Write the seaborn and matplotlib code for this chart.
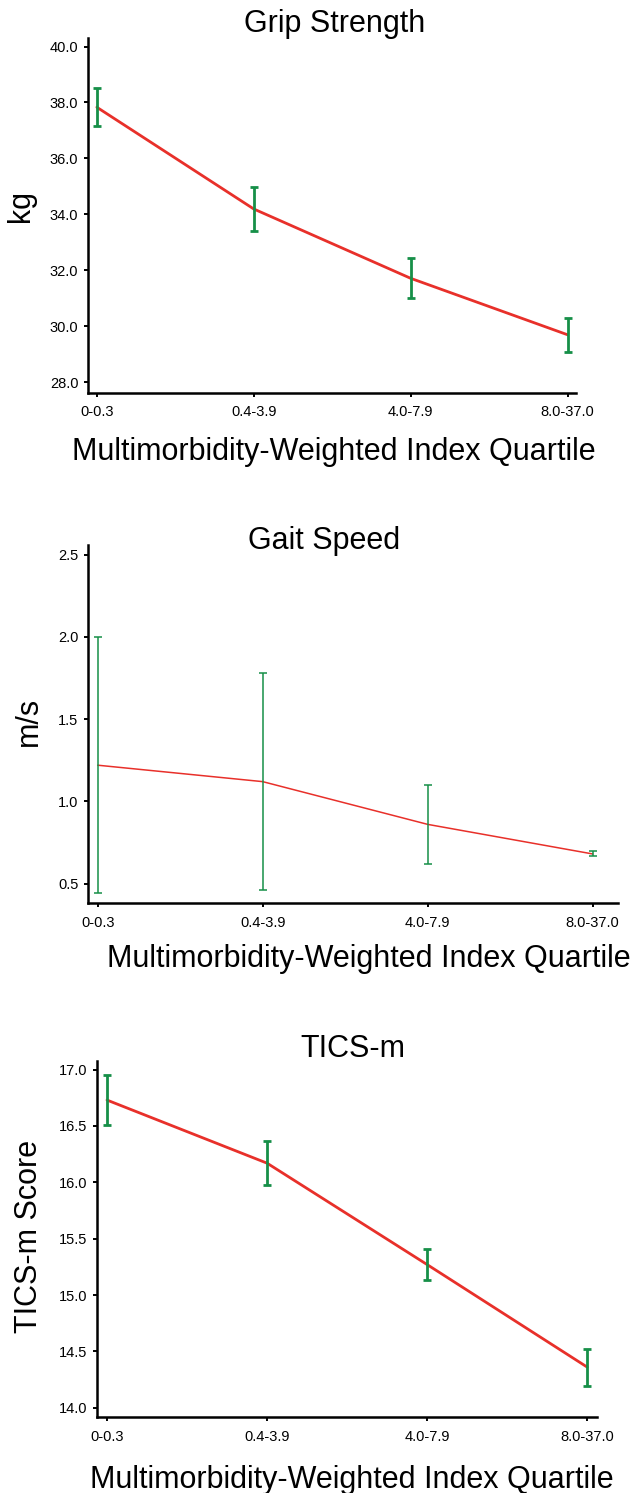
import numpy as np
import pandas as pd
import matplotlib
matplotlib.use("Agg")
import matplotlib.pyplot as plt
import seaborn as sns

# Data
quartiles = ["0-0.3", "0.4-3.9", "4.0-7.9", "8.0-37.0"]

grip_mean = [37.83, 34.19, 31.71, 29.69]
grip_err = [0.68, 0.80, 0.72, 0.61]

gait_mean = [1.22, 1.12, 0.86, 0.68]
gait_err = [0.78, 0.66, 0.24, 0.015]

tics_mean = [16.73, 16.17, 15.27, 14.36]
tics_err = [0.22, 0.195, 0.14, 0.165]

sns.set_style("ticks")
plt.rcParams["font.family"] = ["Liberation Sans", "DejaVu Sans"]
plt.rcParams["text.color"] = "black"
plt.rcParams["axes.labelcolor"] = "black"
plt.rcParams["xtick.color"] = "black"
plt.rcParams["ytick.color"] = "black"

RED = "#e8302a"
GREEN = "#168f48"
XLABEL = "Multimorbidity-Weighted Index Quartile"

fig = plt.figure(figsize=(6.33, 14.93), dpi=100)

# title, ylabel, mean, err, axes rect, ylim, yticks, xlim, line width,
# title (x, y), xlabel coords, ylabel coords
panels = [
    ("Grip Strength", "kg", grip_mean, grip_err,
     [0.1384, 0.737, 0.772, 0.2376], (27.62, 40.31), np.arange(28, 40.1, 2),
     (-0.059, 3.055), 2.0, (0.505, 1.0178), (0.504, -0.125), (-0.1055, 0.526)),
    ("Gait Speed", "m/s", gait_mean, gait_err,
     [0.1384, 0.395, 0.8375, 0.240], (0.38, 2.56), np.arange(0.5, 2.51, 0.5),
     (-0.061, 3.152), 1.1, (0.446, 0.989), (0.53, -0.1136), (-0.082, 0.507)),
    ("TICS-m", "TICS-m Score", tics_mean, tics_err,
     [0.1531, 0.0507, 0.7896, 0.2389], (13.915, 17.08), np.arange(14, 17.01, 0.5),
     (-0.063, 3.059), 2.0, (0.512, 1.0112), (0.51, -0.135), (-0.106, 0.506)),
]

for (title, ylab, mean, err, rect, ylim, yticks, xlim, lw,
     tpos, xlpos, ylpos) in panels:
    ax = fig.add_axes(rect)
    df = pd.DataFrame({"quartile": quartiles, "value": mean})
    sns.lineplot(data=df, x="quartile", y="value", ax=ax, color=RED, linewidth=lw,
                 sort=False, zorder=2)
    ax.errorbar(quartiles, mean, yerr=err, fmt="none", ecolor=GREEN,
                elinewidth=lw, capsize=2.6, capthick=lw, zorder=3)
    ax.set_xlim(*xlim)
    ax.set_ylim(*ylim)
    ax.set_yticks(yticks)
    ax.set_yticklabels(["{:.1f}".format(v) for v in yticks])
    ax.tick_params(axis="both", labelsize=10.5, length=3.2, width=1.4,
                   direction="out")
    ax.tick_params(axis="y", pad=3.5)
    ax.tick_params(axis="x", pad=6)
    for s in ["left", "bottom"]:
        ax.spines[s].set_linewidth(1.8)
        ax.spines[s].set_color("black")
    sns.despine(ax=ax)
    # explicit y so matplotlib does not push the title above the axes
    ax.set_title(title, fontsize=22, x=tpos[0], y=tpos[1], pad=0)
    ax.set_ylabel(ylab, fontsize=22)
    ax.set_xlabel(XLABEL, fontsize=22)
    ax.xaxis.set_label_coords(*xlpos)
    ax.yaxis.set_label_coords(*ylpos)

fig.savefig("out.png", dpi=100)
